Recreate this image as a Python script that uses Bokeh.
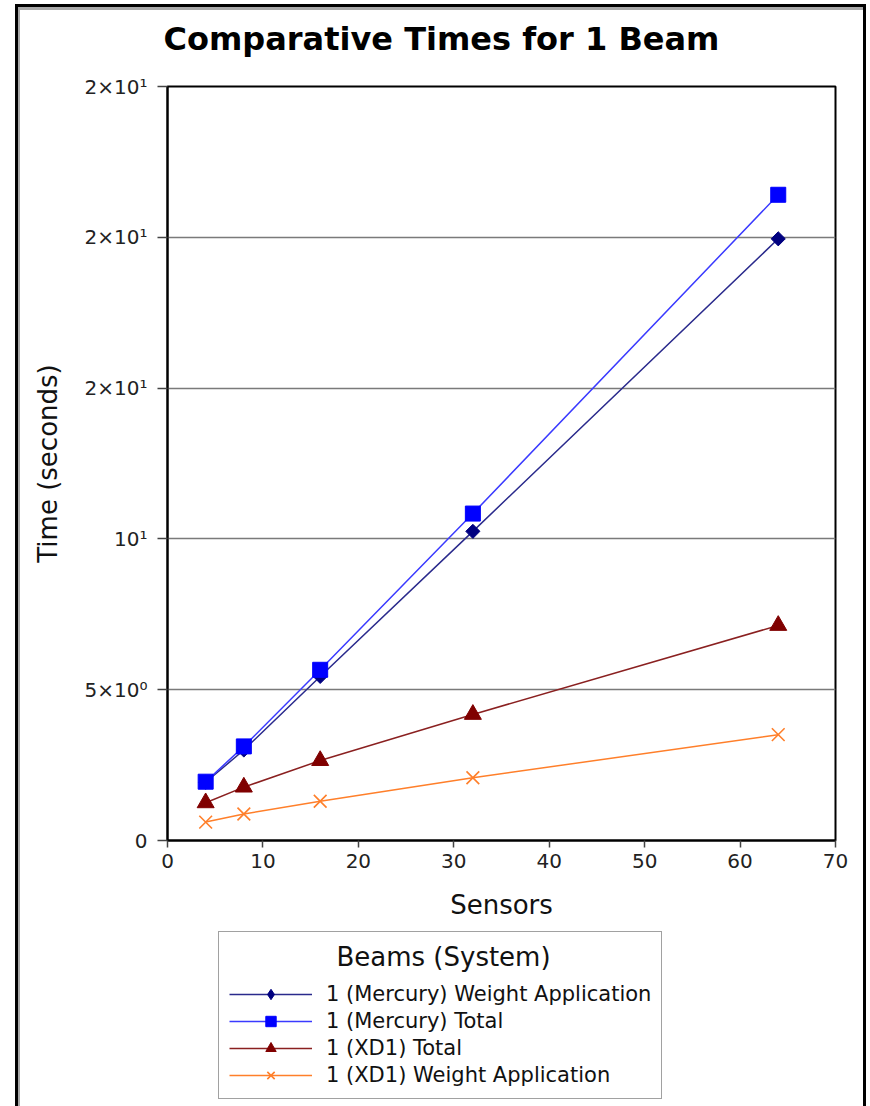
import math

from bokeh.plotting import figure
from bokeh.layouts import column
from bokeh.models import Range1d, FixedTicker, Legend, LegendItem, InlineStyleSheet, Title
from bokeh.embed import file_html
from bokeh.resources import INLINE

# Timing results (seconds) per number of sensors
sensors = [4, 8, 16, 32, 64]
mercury_weight = [1.93, 3.0, 5.44, 10.25, 19.95]
mercury_total = [1.95, 3.12, 5.66, 10.84, 21.41]
xd1_total = [1.25, 1.77, 2.65, 4.18, 7.13]
xd1_weight = [0.61, 0.88, 1.30, 2.08, 3.51]

x_ticks = [0, 10, 20, 30, 40, 50, 60, 70]
y_ticks = [0, 5, 10, 15, 20, 25]
y_tick_labels = ["0", "5×10⁰", "10¹", "2×10¹", "2×10¹", "2×10¹"]

FONT = "DejaVu Sans"
W = 870
TOP_H = 926
LEGEND_H = 180

p = figure(
    width=W, height=TOP_H,
    x_range=Range1d(0, 70), y_range=Range1d(0, 25),
    output_backend="svg", toolbar_location=None,
    min_border_left=167, min_border_right=35,
    min_border_top=86, min_border_bottom=86,
    background_fill_color="white", border_fill_color="white",
    title=None,
)

# chart title, lifted off the frame with bottom padding
p.add_layout(Title(
    text="Comparative Times for 1 Beam",
    text_font=FONT, text_font_size="32px", text_font_style="bold",
    text_color="black", align="left", offset=-4, standoff=0,
    padding=dict(left=0, right=0, top=0, bottom=29),
), "above")

p.outline_line_color = "black"
p.outline_line_width = 2

p.xgrid.visible = False
p.ygrid.ticker = FixedTicker(ticks=y_ticks)
p.ygrid.grid_line_color = "#7a7a7a"
p.ygrid.grid_line_width = 1.5

for ax in (p.xaxis[0], p.yaxis[0]):
    ax.axis_line_color = "black"
    ax.axis_line_width = 2
    ax.major_tick_line_color = "#444444"
    ax.major_tick_line_width = 1.5
    ax.major_tick_in = 0
    ax.minor_tick_line_color = None
    ax.major_label_text_font = FONT
    ax.major_label_text_font_size = "20px"
    ax.major_label_text_color = "#222222"
    ax.axis_label_text_font = FONT
    ax.axis_label_text_font_size = "26px"
    ax.axis_label_text_font_style = "normal"
    ax.axis_label_text_color = "#111111"

p.xaxis.ticker = FixedTicker(ticks=x_ticks)
p.xaxis.major_tick_out = 7
p.xaxis.major_label_standoff = 6
p.xaxis.axis_label = "Sensors"
p.xaxis.axis_label_standoff = 19

p.yaxis.ticker = FixedTicker(ticks=y_ticks)
p.yaxis.major_label_overrides = {t: lab for t, lab in zip(y_ticks, y_tick_labels)}
p.yaxis.major_tick_out = 10
p.yaxis.major_label_standoff = 10
p.yaxis.axis_label = "Time (seconds)"
p.yaxis.axis_label_standoff = 19

series = [
    ("1 (Mercury) Weight Application", mercury_weight, "#000080", "#2a2a8c", "diamond", 10),
    ("1 (Mercury) Total", mercury_total, "#0000ff", "#3a3aff", "square", 15),
    ("1 (XD1) Total", xd1_total, "#800000", "#8a2020", "triangle", 17),
    ("1 (XD1) Weight Application", xd1_weight, "#ff7f2a", "#ff7f2a", "x", 18),
]

# legend panel under the chart
leg_fig = figure(
    width=W, height=LEGEND_H,
    x_range=Range1d(0, 1), y_range=Range1d(0, 1),
    output_backend="svg", toolbar_location=None,
    x_axis_location=None, y_axis_location=None,
    min_border=0, outline_line_color=None,
    background_fill_color="white", border_fill_color="white",
)
leg_fig.grid.visible = False


def draw_series(fig, xs, ys, mcol, lcol, marker, size, swatch=False):
    ln = fig.line(xs, ys, line_color=lcol, line_width=1.5)
    if marker == "x":
        mk = fig.scatter(xs, ys, marker="x", size=size, line_color=mcol, line_width=1.6)
    elif marker == "diamond" and not swatch:
        # a square turned by 45 degrees gives an even rhombus
        mk = fig.scatter(xs, ys, marker="square", angle=math.pi / 4, size=size,
                         fill_color=mcol, line_color=mcol)
    else:
        mk = fig.scatter(xs, ys, marker=marker, size=size, fill_color=mcol, line_color=mcol)
    return ln, mk


items = []
for label, ys, mcol, lcol, marker, size in series:
    draw_series(p, sensors, ys, mcol, lcol, marker, size)
    # legend swatches: glyphs parked outside the visible range
    ln, mk = draw_series(leg_fig, [-5, -4], [-5, -4], mcol, lcol, marker, size, swatch=True)
    items.append(LegendItem(label=label, renderers=[ln, mk]))

legend = Legend(
    items=items,
    location=(51, 7),
    title="\u00a0" * 13 + "Beams (System)",
    title_text_font=FONT, title_text_font_size="26px", title_text_font_style="normal",
    title_text_color="#111111", title_standoff=9,
    label_text_font=FONT, label_text_font_size="21px", label_text_color="#111111",
    label_standoff=14, label_height=26, glyph_height=26, glyph_width=83,
    spacing=1, padding=10, margin=0,
    border_line_color="#444444", border_line_width=1.5,
    background_fill_color="white", background_fill_alpha=1.0,
)
leg_fig.add_layout(legend, "center")

page = column(p, leg_fig, spacing=0)

# page frame drawn around everything (open at the bottom edge)
page.stylesheets = [InlineStyleSheet(css="""
:host { position: relative; }
:host::after {
  content: "";
  position: absolute;
  left: 15px;
  top: 4px;
  width: 851px;
  height: 1102px;
  box-sizing: border-box;
  border-left: 3px solid black;
  border-right: 3px solid black;
  border-top: 3px solid black;
  box-shadow: inset 2px 3px 0 #a8a8a8;
  pointer-events: none;
  z-index: 10;
}
""")]

open("out.html", "w").write(file_html(page, INLINE))
